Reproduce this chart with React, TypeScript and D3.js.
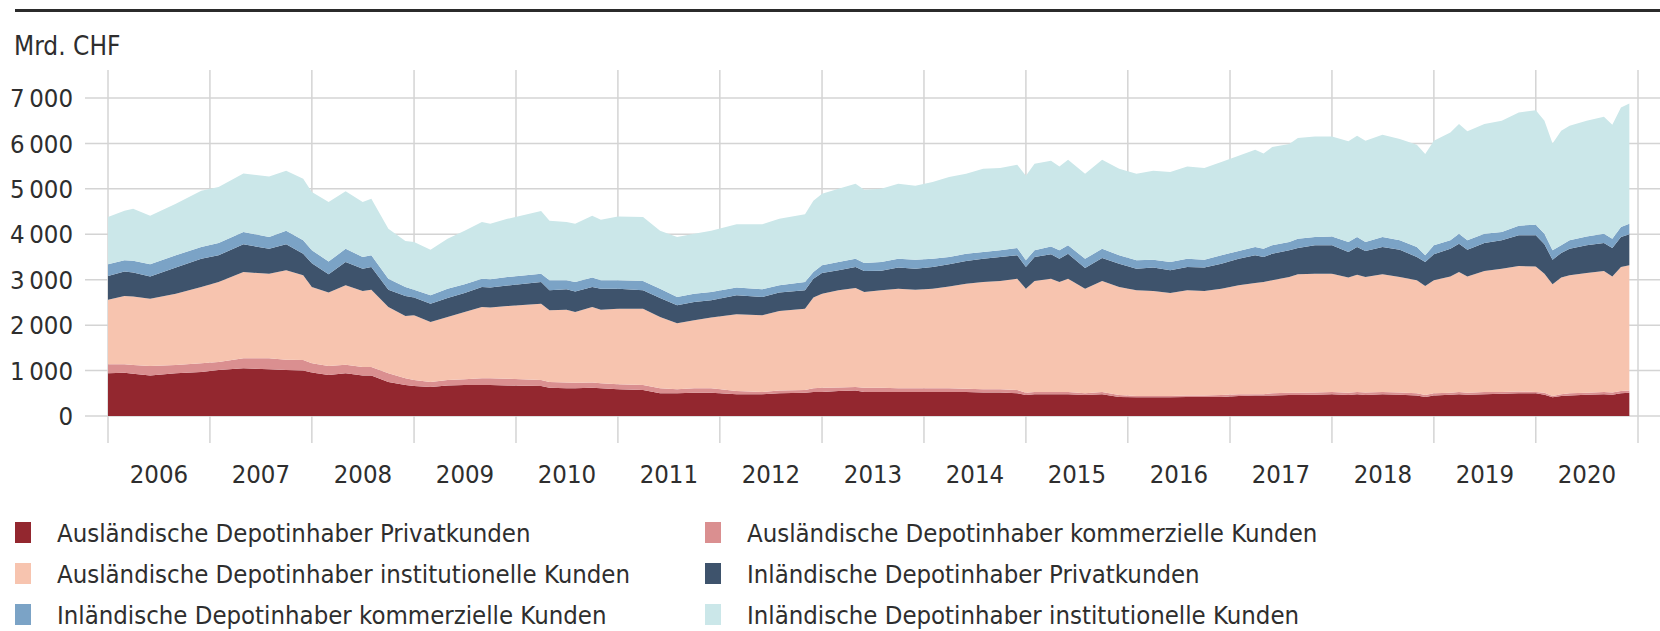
import React from "react";
import * as d3 from "d3";

const months = [
  "2006-01","2006-03","2006-04","2006-06","2006-09","2006-12","2007-02","2007-05","2007-08","2007-10",
  "2007-12","2008-01","2008-03","2008-05","2008-07","2008-08","2008-10","2008-12","2009-01","2009-03",
  "2009-05","2009-07","2009-09","2009-10","2009-12","2010-04","2010-05","2010-07","2010-08","2010-10",
  "2010-11","2011-01","2011-04","2011-06","2011-08","2011-10","2011-12","2012-03","2012-06","2012-08",
  "2012-11","2012-12","2013-01","2013-03","2013-05","2013-06","2013-08","2013-10","2013-12","2014-02",
  "2014-04","2014-06","2014-08","2014-10","2014-12","2015-01","2015-02","2015-04","2015-05","2015-06",
  "2015-08","2015-10","2015-12","2016-02","2016-04","2016-06","2016-08","2016-10","2016-12","2017-02",
  "2017-04","2017-05","2017-06","2017-08","2017-09","2017-11","2018-01","2018-03","2018-04","2018-05",
  "2018-07","2018-09","2018-11","2018-12","2019-01","2019-03","2019-04","2019-05","2019-07","2019-09",
  "2019-11","2020-01","2020-02","2020-03","2020-04","2020-05","2020-07","2020-09","2020-10","2020-11",
  "2020-12"
];

// Mrd. CHF
const auslPrivat = [
  940,950,930,890,940,970,1010,1050,1030,1010,
  1000,960,900,940,890,890,750,680,660,640,
  670,680,680,680,670,660,620,610,610,620,
  610,590,570,500,500,510,510,480,480,500,
  510,530,530,550,560,530,530,530,530,530,
  530,530,520,520,500,460,480,480,480,480,
  460,480,420,410,410,410,420,420,420,440,
  450,450,450,460,460,470,480,460,480,460,
  480,470,450,420,450,470,480,470,480,490,
  500,500,470,410,440,450,470,480,470,500,
  510
];
const auslKommerziell = [
  200,190,190,210,180,190,180,220,240,230,
  230,200,200,190,190,190,190,150,130,110,
  120,130,150,150,150,130,130,130,120,120,
  110,110,110,110,90,100,100,70,50,60,
  60,80,90,80,80,90,90,80,80,80,
  80,70,70,70,70,50,50,50,50,50,
  40,50,40,30,30,30,30,30,40,40,
  30,30,50,50,50,50,50,50,50,60,
  50,50,50,40,50,40,50,40,50,40,
  40,30,40,30,40,50,40,50,50,50,
  50
];
const auslInstitutionell = [
  1420,1500,1510,1480,1570,1680,1760,1900,1860,1970,
  1870,1680,1620,1750,1670,1700,1460,1370,1430,1320,
  1390,1480,1570,1560,1600,1680,1580,1600,1560,1660,
  1620,1660,1680,1570,1450,1500,1560,1690,1690,1750,
  1790,2000,2070,2140,2180,2110,2150,2190,2170,2190,
  2240,2310,2360,2380,2450,2290,2440,2490,2420,2490,
  2300,2440,2380,2330,2310,2270,2320,2300,2340,2400,
  2450,2470,2490,2550,2610,2610,2600,2540,2580,2540,
  2590,2540,2490,2400,2490,2560,2640,2560,2660,2710,
  2760,2760,2620,2460,2570,2600,2640,2660,2550,2730,
  2760
];
const inlPrivat = [
  520,540,530,490,580,620,590,610,550,570,
  470,520,400,510,490,500,380,440,390,400,
  420,420,440,440,450,480,440,450,450,440,
  460,440,410,420,400,400,380,420,400,410,
  410,410,460,440,460,460,430,470,460,480,
  490,500,510,530,520,480,530,540,510,550,
  460,510,510,470,520,500,510,520,550,580,
  610,550,580,590,580,630,630,560,610,570,
  600,600,510,530,570,610,620,590,620,630,
  680,690,650,540,540,580,610,620,630,660,
  680
];
const inlKommerziell = [
  260,250,260,270,270,260,270,270,260,300,
  300,290,280,290,260,260,240,200,170,190,
  200,190,180,180,190,180,220,200,210,210,
  190,190,200,200,180,180,180,170,170,160,
  180,150,170,180,180,180,190,190,200,180,
  160,160,150,150,160,150,150,170,190,190,
  200,200,190,190,170,180,180,170,190,170,
  180,180,190,180,200,180,190,220,220,200,
  220,210,220,150,200,190,220,210,200,180,
  210,230,230,210,170,190,190,200,200,220,
  230
];
const inlInstitutionell = [
  1040,1090,1140,1070,1130,1240,1230,1290,1330,1320,
  1350,1280,1310,1270,1210,1240,1100,1010,1050,1000,
  1100,1180,1250,1220,1280,1380,1310,1280,1280,1360,
  1330,1400,1410,1280,1320,1320,1350,1390,1430,1460,
  1490,1570,1570,1610,1650,1610,1610,1650,1630,1690,
  1760,1760,1830,1810,1830,1860,1900,1890,1840,1880,
  1870,1960,1900,1900,1960,1980,2030,2020,2050,2100,
  2140,2100,2160,2160,2220,2210,2200,2220,2230,2230,
  2250,2230,2250,2230,2300,2370,2420,2400,2420,2450,
  2490,2520,2490,2350,2520,2520,2550,2580,2510,2630,
  2650
];

const seriesNames = [
  "Ausländische Depotinhaber Privatkunden",
  "Ausländische Depotinhaber kommerzielle Kunden",
  "Ausländische Depotinhaber institutionelle Kunden",
  "Inländische Depotinhaber Privatkunden",
  "Inländische Depotinhaber kommerzielle Kunden",
  "Inländische Depotinhaber institutionelle Kunden",
];
const seriesColors = ["#93272f", "#da8f90", "#f7c4af", "#3e536c", "#7ba3c6", "#cbe7e9"];
const seriesValues = [auslPrivat, auslKommerziell, auslInstitutionell, inlPrivat, inlKommerziell, inlInstitutionell];

const yTicks = [0, 1000, 2000, 3000, 4000, 5000, 6000, 7000];
const yearLabels = ["2006","2007","2008","2009","2010","2011","2012","2013","2014","2015","2016","2017","2018","2019","2020"];
const unitLabel = "Mrd. CHF";

const FONT = "'Liberation Sans Narrow', 'DejaVu Sans Condensed', 'Arial Narrow', sans-serif";
const W = 1660, H = 631;

export default function App() {
  const parse = d3.timeParse("%Y-%m");
  const rows = months.map((m, i) => {
    const r: any = { date: parse(m) };
    seriesNames.forEach((n, k) => { r[n] = seriesValues[k][i]; });
    return r;
  });
  const x = d3.scaleTime()
    .domain([new Date(2006, 0, 1), new Date(2021, 0, 1)])
    .range([108, 1638]);
  const y = d3.scaleLinear().domain([0, 7000]).range([416, 98]);
  const stack = d3.stack<any>().keys(seriesNames);
  const layers = stack(rows);
  const area = d3.area<any>()
    .x((d) => x(d.data.date))
    .y0((d) => y(d[0]))
    .y1((d) => y(d[1]));

  const yearBounds = d3.range(2006, 2022).map((yr) => new Date(yr, 0, 1));
  const fmt = (v: number) => (v >= 1000 ? `${Math.floor(v / 1000)}\u2009${String(v % 1000).padStart(3, "0")}` : String(v));

  const textColor = "#2e2e2e";
  const gridColor = "#d4d4d4";
  const fs = 25.5;

  return (
    <svg width={W} height={H} style={{ position: "absolute", left: 0, top: 0, background: "#fff" }} fontFamily={FONT}>
      <line x1={15} x2={W} y1={10.5} y2={10.5} stroke="#2b2b2b" strokeWidth={3} />
      <text x={14} y={55} fontSize={26} fill={textColor}>{unitLabel}</text>

      {yTicks.map((t) => (
        <g key={t}>
          <line x1={85} x2={W} y1={y(t)} y2={y(t)} stroke={gridColor} strokeWidth={1.5} />
          <text x={73} y={y(t)} dy="0.36em" textAnchor="end" fontSize={fs} fill={textColor}>{fmt(t)}</text>
        </g>
      ))}
      {yearBounds.map((d, i) => (
        <line key={i} x1={x(d)} x2={x(d)} y1={70} y2={443} stroke={gridColor} strokeWidth={1.5} />
      ))}

      {layers.map((l, i) => (
        <path key={i} d={area(l) || ""} fill={seriesColors[i]} />
      ))}

      {yearLabels.map((yl) => {
        const yr = +yl;
        const cx = (x(new Date(yr, 0, 1)) + x(new Date(yr + 1, 0, 1))) / 2;
        return (
          <text key={yl} x={cx} y={483} textAnchor="middle" fontSize={fs} fill={textColor}>{yl}</text>
        );
      })}

      {seriesNames.map((n, i) => {
        const col = i % 2, row = Math.floor(i / 2);
        const sx = col === 0 ? 15 : 705;
        const cy = 533 + row * 41;
        return (
          <g key={n}>
            <rect x={sx} y={cy - 11} width={16} height={21} fill={seriesColors[i]} />
            <text x={sx + 42} y={cy} dy="0.36em" fontSize={fs} fill={textColor}>{n}</text>
          </g>
        );
      })}
    </svg>
  );
}
